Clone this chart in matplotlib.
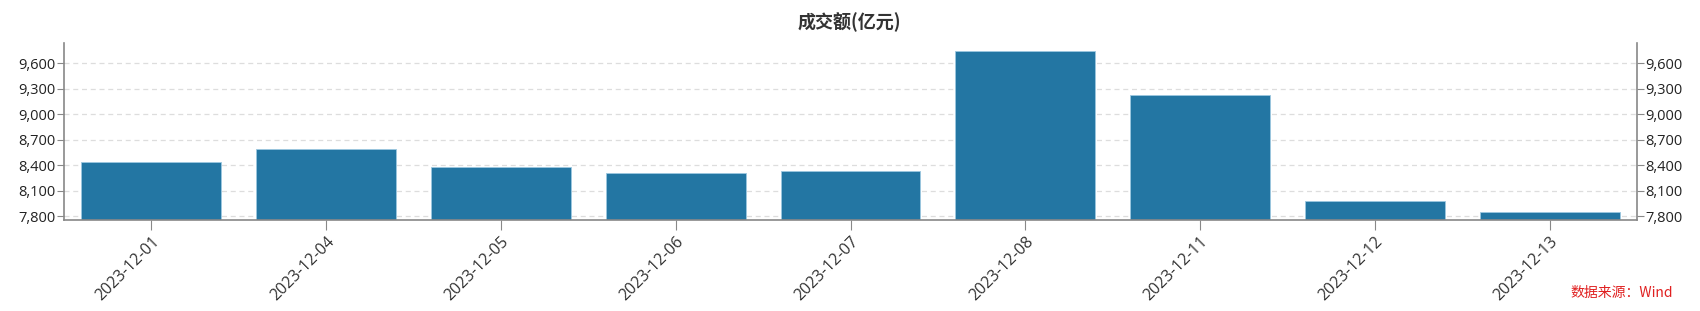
import matplotlib
matplotlib.use("Agg")
import matplotlib.pyplot as plt
from matplotlib.ticker import FuncFormatter, FixedLocator

plt.rcParams['font.family'] = ['Noto Sans CJK SC', 'DejaVu Sans']

dates = ["2023-12-01", "2023-12-04", "2023-12-05", "2023-12-06", "2023-12-07",
         "2023-12-08", "2023-12-11", "2023-12-12", "2023-12-13"]
turnover = [8439, 8585, 8383, 8309, 8333, 9749, 9225, 7982, 7847]
yticks = [7800, 8100, 8400, 8700, 9000, 9300, 9600]
title = "成交额(亿元)"
source = "数据来源：Wind"

W, H = 1700, 311
fig = plt.figure(figsize=(W / 100, H / 100), dpi=100)
left, right, top, bottom = 64, 1637, 43, 220
ax = fig.add_axes([left / W, 1 - bottom / H, (right - left) / W, (bottom - top) / H])

x = list(range(len(dates)))
ax.bar(x, turnover, width=0.8, color="#2376a3", edgecolor="#9cc8e0", linewidth=0.6, zorder=2)
ax.set_xlim(-0.5, len(dates) - 0.5)
ax.set_ylim(7753, 9840)

ax.yaxis.set_major_locator(FixedLocator(yticks))
fmt = FuncFormatter(lambda v, p: f"{int(v):,}")
ax.yaxis.set_major_formatter(fmt)
ax.grid(axis="y", linestyle=(0, (4, 3)), color="#dddddd", linewidth=0.9, zorder=0)
ax.set_axisbelow(True)

ax.set_xticks(x)
ax.set_xticklabels(dates, rotation=45, ha="right", rotation_mode="anchor",
                   fontsize=11.5, color="#333333", family=["Open Sans", "DejaVu Sans"])
ax.tick_params(axis="x", length=7, color="#888888", pad=3)
ax.tick_params(axis="y", length=5, color="#888888", labelsize=10.5, labelcolor="#222222", pad=1)
for lab in ax.get_yticklabels():
    lab.set_family(["Open Sans", "DejaVu Sans"])

for s in ["top", "right"]:
    ax.spines[s].set_visible(False)
for s in ["left", "bottom"]:
    ax.spines[s].set_color("#888888")
    ax.spines[s].set_linewidth(1.2)

ax2 = ax.twinx()
ax2.set_ylim(ax.get_ylim())
ax2.yaxis.set_major_locator(FixedLocator(yticks))
ax2.yaxis.set_major_formatter(fmt)
ax2.tick_params(axis="y", length=5, color="#888888", labelsize=10.5, labelcolor="#222222", pad=1)
for lab in ax2.get_yticklabels():
    lab.set_family(["Open Sans", "DejaVu Sans"])
for s in ["top", "left", "bottom"]:
    ax2.spines[s].set_visible(False)
ax2.spines["right"].set_color("#888888")
ax2.spines["right"].set_linewidth(1.2)

fig.text(849 / W, 1 - 22 / H, title, ha="center", va="center", fontsize=13,
         fontweight="bold", color="#333333")
fig.text(1673 / W, 1 - 293 / H, source, ha="right", va="center", fontsize=10,
         color="#e02020")

fig.savefig("out.png", dpi=100)
